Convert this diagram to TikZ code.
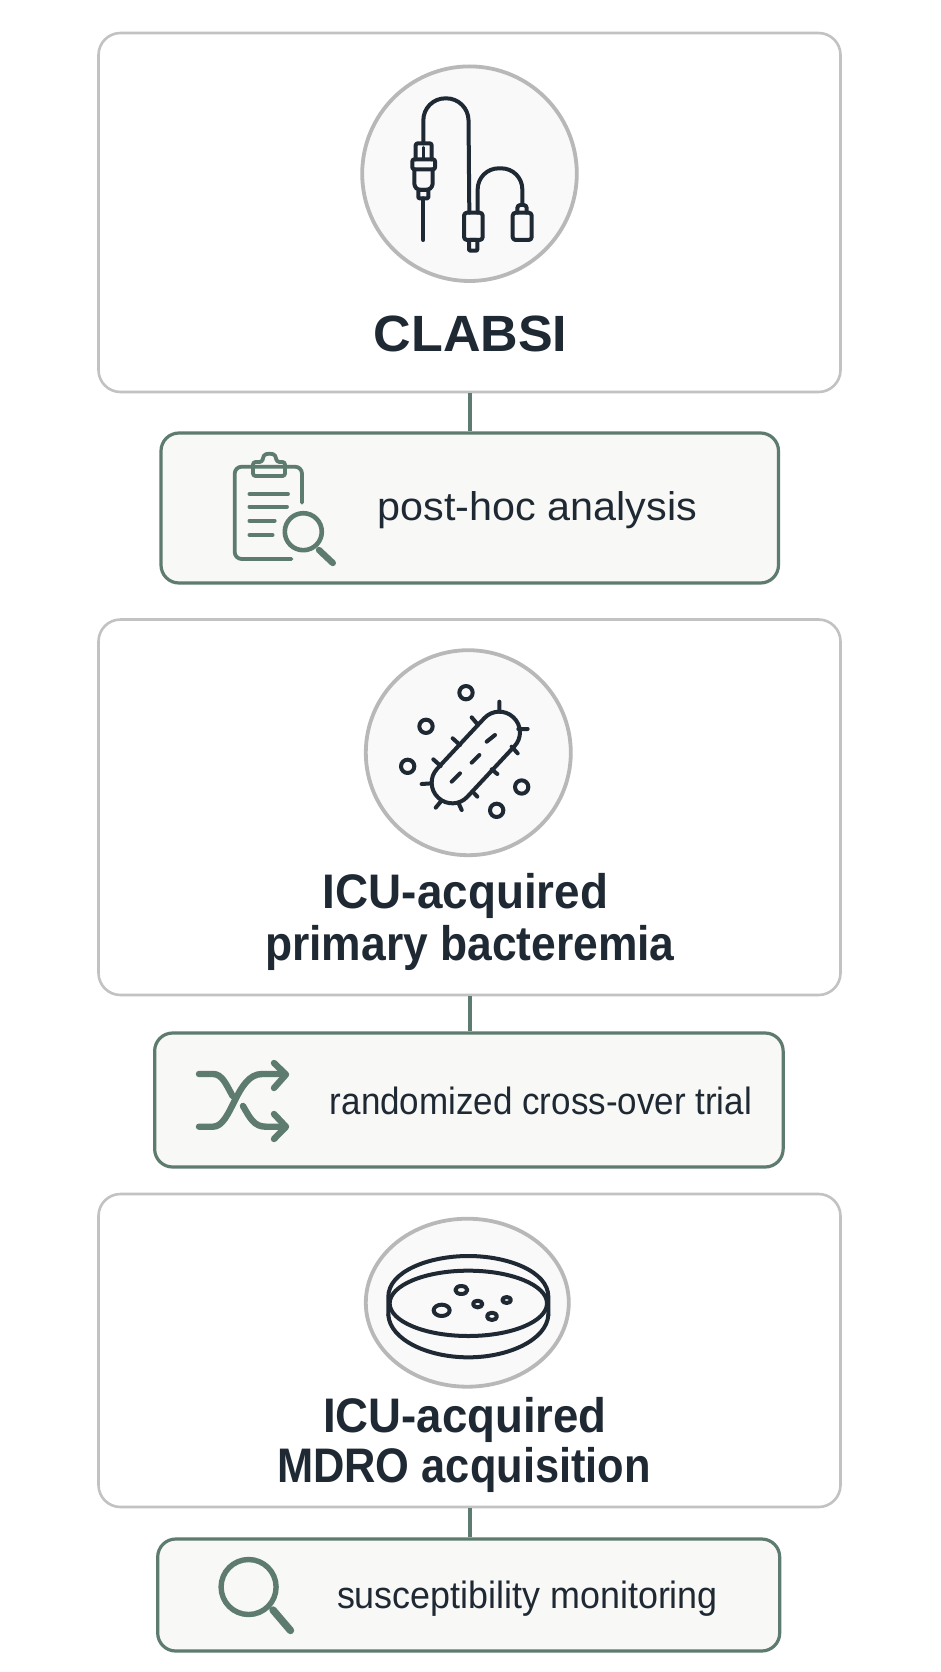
\documentclass[tikz,border=0pt]{standalone}
\usepackage{graphicx}
\usepackage{fontspec}
\setmainfont{Liberation Sans}
\definecolor{sage}{HTML}{5E7B6F}
\definecolor{ink}{HTML}{1F2933}
\definecolor{outerline}{HTML}{C2C2C2}
\definecolor{ringline}{HTML}{B8B8B8}
\definecolor{softfill}{HTML}{F8F8F6}
\definecolor{ringfill}{HTML}{F9F9F9}
\tikzset{
  outerbox/.style={draw=outerline,line width=2.6pt,fill=white,rounded corners=22pt,inner sep=0pt},
  smallbox/.style={draw=sage,line width=3.2pt,fill=softfill,rounded corners=18pt,inner sep=0pt},
  ring/.style={draw=ringline,line width=3.8pt,fill=ringfill},
  inkline/.style={draw=ink,line width=4pt,line cap=round,line join=round},
  sageline/.style={draw=sage,line width=3.8pt,line cap=round,line join=round},
  link/.style={draw=sage,line width=4pt},
  title/.style={text=ink,inner sep=0pt,anchor=base,font=\bfseries\fontsize{51}{51}\selectfont},
  subtitle/.style={text=ink,inner sep=0pt,anchor=base,font=\bfseries\fontsize{48.5}{48.5}\selectfont},
  label/.style={text=ink,inner sep=0pt,anchor=base,font=\fontsize{40}{40}\selectfont},
}
\begin{document}
\begin{tikzpicture}[x=1pt,y=-1pt]
\useasboundingbox[fill=white] (0,0) rectangle (941,1672);
\coordinate (cx) at (470,0);
% boxes
\node[outerbox,minimum width=742pt,minimum height=359pt] (o1) at (469.5,212.5) {};
\node[smallbox,minimum width=617.5pt,minimum height=150pt] (s1) at (469.75,508) {};
\node[outerbox,minimum width=742pt,minimum height=375.5pt] (o2) at (469.5,807.25) {};
\node[smallbox,minimum width=628.5pt,minimum height=134pt] (s2) at (468.9,1100) {};
\node[outerbox,minimum width=742pt,minimum height=313pt] (o3) at (469.5,1350.5) {};
\node[smallbox,minimum width=622pt,minimum height=112pt] (s3) at (468.7,1595) {};
\draw[link] (cx |- o1.south) -- (cx |- s1.north);
\draw[link] (cx |- o2.south) -- (cx |- s2.north);
\draw[link] (cx |- o3.south) -- (cx |- s3.north);
% rings
\path[ring] (469.5,173.7) circle (107.3);
\path[ring] (468.3,752.7) circle (102.5);
\path[ring] (467.3,1302.7) ellipse (101.5 and 84);
% catheter icon
\begin{scope}[shift={(320,40)},scale=0.33333,inkline]
  \draw (310,600) -- (310,475);
  \draw[rounded corners=1pt] (295,450) rectangle (325,475);
  \draw[rounded corners=3pt] (283,388) -- (283,440) -- (295,450) -- (325,450) -- (338,440) -- (338,388);
  \draw[rounded corners=2pt] (277,358) rectangle (345,388);
  \draw[rounded corners=2pt] (287,358) -- (287,310) -- (335,310) -- (335,358);
  \draw[line width=2.5pt] (310,322) -- (310,358);
  \draw[rounded corners=22pt] (310,310) -- (310,175) -- (445,175) -- (448,518);
  \draw[rounded corners=21pt] (473,518) -- (473,385) -- (607,385) -- (607,495);
  \draw[rounded corners=3pt] (432,518) rectangle (488,600);
  \draw[rounded corners=1pt] (447,600) rectangle (472,632);
  \draw[rounded corners=3pt] (578,518) rectangle (635,600);
  \draw[rounded corners=3pt] (592,518) -- (592,495) -- (620,495) -- (620,518);
\end{scope}
% bacterium icon
\begin{scope}[shift={(475.8,757.5)},rotate=47,inkline]
  \draw[rounded corners=20.4pt] (-55,-20.6) rectangle (55,20.6);
\end{scope}
\begin{scope}[shift={(340,630)},scale=0.33333,inkline]
  \draw (478,215)--(478,245) (395,262)--(412,282) (338,325)--(360,345) (280,388)--(302,408)
        (245,462)--(275,460) (287,533)--(302,515) (365,540)--(355,518) (412,500)--(398,485)
        (472,432)--(455,418) (533,370)--(515,350) (563,297)--(535,297);
  \draw (440,335)--(465,315) (395,398)--(418,375) (335,455)--(360,430);
  \draw (378,188) circle (20) (258,289) circle (20) (203,409) circle (20) (545,471) circle (20) (470,541) circle (20);
\end{scope}
% dish icon
\begin{scope}[shift={(340,1200)},scale=0.33333,inkline]
  \draw (145,345) -- (145,290) .. controls (145,215) and (265,168) .. (385,168) .. controls (505,168) and (625,215) .. (625,290) -- (625,345);
  \draw (145,345) .. controls (150,420) and (265,472) .. (385,472) .. controls (505,472) and (620,420) .. (625,345);
  \draw (385,310) ellipse (236 and 98);
  \draw (364,270) ellipse (18 and 12) (305,331) ellipse (24 and 17) (413,312) ellipse (14 and 10) (500,300) ellipse (13 and 9) (456,349) ellipse (15 and 11);
\end{scope}
% clipboard icon
\begin{scope}[sageline]
  \draw[rounded corners=7pt] (302,502.7) -- (302,466.7) -- (234.7,466.7) -- (234.7,559) -- (291.5,559);
  \draw[rounded corners=2.5pt] (253,476) -- (253,462) -- (262,462) -- (263,458) .. controls (265,453) and (274,453) .. (276,458) -- (277,462) -- (285,462) -- (285,476) -- cycle;
  \draw (249.4,494) -- (288,494) (249.4,506.7) -- (287,506.7) (249.4,520.7) -- (274.7,520.7) (249.4,535) -- (272.6,535);
  \draw[line width=4.6pt] (303.3,531.7) circle (18.5);
  \draw[line width=6.4pt] (319,550) -- (332.8,563);
\end{scope}
% shuffle icon
\begin{scope}[sageline,line width=6.4pt]
  \draw (199,1074) -- (213,1074) .. controls (222,1074) and (226,1084) .. (232.6,1096);
  \draw (199,1126.7) -- (213,1126.7) .. controls (232,1126.7) and (236,1074) .. (262,1074) -- (285,1074);
  \draw (243,1106) .. controls (250,1118) and (254,1126.7) .. (266,1126.7) -- (285,1126.7);
  \draw (274,1063) -- (286,1074.5) -- (274,1088);
  \draw (274,1114) -- (286,1126.7) -- (274,1139);
\end{scope}
% magnifier icon
\begin{scope}[sageline]
  \draw[line width=5.4pt] (248.6,1587) circle (27.5);
  \draw[line width=7.4pt] (273,1610) -- (290.5,1630.5);
\end{scope}
% texts
\node[title] (t1) at (470.5,351.7) {\scalebox{1.02}[1]{CLABSI}};
\node[subtitle] (t2a) at (465.5,908) {\scalebox{0.945}[1]{ICU-acquired}};
\node[subtitle] (t2b) at (470,960) {\scalebox{0.915}[1]{primary bacteremia}};
\node[subtitle] (t3a) at (465,1432) {\scalebox{0.94}[1]{ICU-acquired}};
\node[subtitle] (t3b) at (464,1482) {\scalebox{0.895}[1]{MDRO acquisition}};
\node[label] (l1) at (537.5,520) {\scalebox{1.033}[1]{post-hoc analysis}};
\node[label] (l2) at (541,1114) {\scalebox{0.875}[0.95]{randomized cross-over trial}};
\node[label] (l3) at (527.5,1608) {\scalebox{0.897}[0.95]{susceptibility monitoring}};
\end{tikzpicture}
\end{document}
